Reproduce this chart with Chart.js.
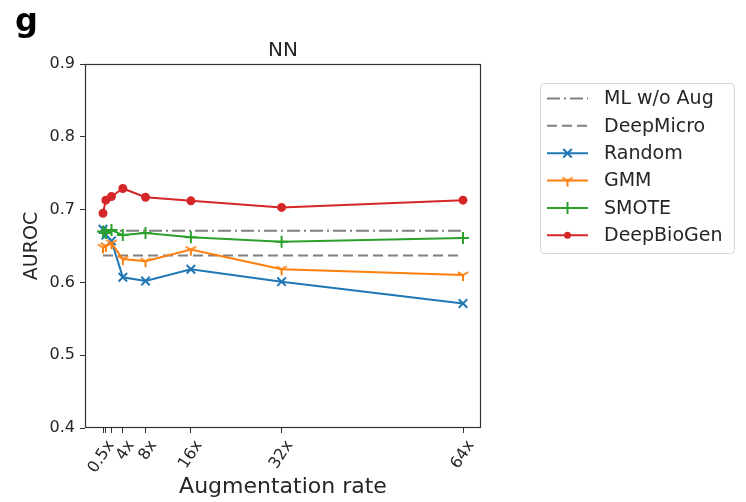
<!DOCTYPE html>
<html>
<head>
<meta charset="utf-8">
<script src="https://cdn.jsdelivr.net/npm/chart.js@4.4.1/dist/chart.umd.min.js"></script>
<style>
  body { margin: 0; background: #fff; }
  #wrap { width: 746px; height: 502px; }
</style>
</head>
<body>
<div id="wrap"><canvas id="aurocChart" width="746" height="502"></canvas></div>
<script>
// --- data ---
const rates = [0.5, 1, 2, 4, 8, 16, 32, 64];
const rateLabels = ['0.5x', '', '', '4x', '8x', '16x', '32x', '64x'];
const yTicks = [0.4, 0.5, 0.6, 0.7, 0.8, 0.9];

const mlNoAug = 0.671;
const deepMicro = 0.637;
const randomAuc = [0.673, 0.665, 0.657, 0.607, 0.602, 0.618, 0.601, 0.571];
const gmmAuc = [0.648, 0.650, 0.654, 0.632, 0.629, 0.645, 0.618, 0.610];
const smoteAuc = [0.670, 0.668, 0.672, 0.665, 0.668, 0.662, 0.656, 0.661];
const deepBioGenAuc = [0.695, 0.713, 0.718, 0.729, 0.717, 0.712, 0.703, 0.713];

const FONT = "'DejaVu Sans', sans-serif";
const TEXT = '#262626';
const GRAY = '#808080';

// tri_down marker ("Y" shape), same look as matplotlib '1'
function triDown(color, r) {
    const c = document.createElement('canvas');
    const s = Math.ceil(r * 2 + 4);
    c.width = s; c.height = s;
    const g = c.getContext('2d');
    const m = s / 2;
    g.strokeStyle = color;
    g.lineWidth = 2;
    g.beginPath();
    g.moveTo(m, m); g.lineTo(m, m + r);
    g.moveTo(m, m); g.lineTo(m - r * 0.866, m - r * 0.5);
    g.moveTo(m, m); g.lineTo(m + r * 0.866, m - r * 0.5);
    g.stroke();
    return c;
}

const pts = (ys) => rates.map((x, i) => ({ x: x, y: ys[i] }));
const flat = (v) => [{ x: rates[0], y: v }, { x: rates[rates.length - 1], y: v }];

const series = [
    { label: 'ML w/o Aug', data: flat(mlNoAug), color: GRAY, dash: [13, 4, 2, 4], marker: null },
    { label: 'DeepMicro', data: flat(deepMicro), color: GRAY, dash: [10, 5], marker: null },
    { label: 'Random', data: pts(randomAuc), color: '#1f77b4', dash: [], marker: 'crossRot', r: 6 },
    { label: 'GMM', data: pts(gmmAuc), color: '#ff7f0e', dash: [], marker: triDown('#ff7f0e', 6), r: 6 },
    { label: 'SMOTE', data: pts(smoteAuc), color: '#2ca02c', dash: [], marker: 'cross', r: 6 },
    { label: 'DeepBioGen', data: pts(deepBioGenAuc), color: '#d62728', dash: [], marker: 'circle', r: 3.5 }
];

const datasets = series.map((s, i) => ({
    label: s.label,
    data: s.data,
    borderColor: s.color,
    backgroundColor: s.color,
    borderWidth: 2,
    borderDash: s.dash,
    pointStyle: s.marker || 'circle',
    pointRadius: s.marker ? s.r : 0,
    pointHoverRadius: s.marker ? s.r : 0,
    pointBorderWidth: 2,
    tension: 0,
    order: series.length - i
}));

function drawMarker(ctx, s, x, y) {
    if (!s.marker) return;
    const r = s.r;
    ctx.save();
    ctx.setLineDash([]);
    ctx.strokeStyle = s.color;
    ctx.fillStyle = s.color;
    ctx.lineWidth = 2;
    if (s.marker === 'crossRot') {
        const d = r * 0.7071;
        ctx.beginPath();
        ctx.moveTo(x - d, y - d); ctx.lineTo(x + d, y + d);
        ctx.moveTo(x - d, y + d); ctx.lineTo(x + d, y - d);
        ctx.stroke();
    } else if (s.marker === 'cross') {
        ctx.beginPath();
        ctx.moveTo(x - r, y); ctx.lineTo(x + r, y);
        ctx.moveTo(x, y - r); ctx.lineTo(x, y + r);
        ctx.stroke();
    } else if (s.marker === 'circle') {
        ctx.beginPath();
        ctx.arc(x, y, r, 0, Math.PI * 2);
        ctx.fill();
    } else {
        ctx.drawImage(s.marker, x - s.marker.width / 2, y - s.marker.height / 2);
    }
    ctx.restore();
}

// frame, titles, panel letter and the boxed legend
const decorations = {
    id: 'decorations',
    afterDraw(chart) {
        const ctx = chart.ctx;
        const a = chart.chartArea;
        ctx.save();

        ctx.strokeStyle = '#333';
        ctx.lineWidth = 1.2;
        ctx.strokeRect(a.left + 0.5, a.top + 0.5, a.right - a.left - 1, a.bottom - a.top - 1);

        ctx.fillStyle = '#000';
        ctx.font = "bold 32px " + FONT;
        ctx.textAlign = 'left';
        ctx.textBaseline = 'alphabetic';
        ctx.fillText('g', 15, 31);

        ctx.fillStyle = TEXT;
        ctx.font = "20px " + FONT;
        ctx.textAlign = 'center';
        ctx.fillText('NN', (a.left + a.right) / 2, 56);

        // legend
        const lx = 540, ly = 83, lw = 194, lh = 170;
        ctx.beginPath();
        ctx.roundRect(lx + 0.5, ly + 0.5, lw, lh, 4);
        ctx.fillStyle = 'rgba(255,255,255,0.8)';
        ctx.fill();
        ctx.strokeStyle = '#d6d6d6';
        ctx.lineWidth = 1;
        ctx.stroke();

        ctx.font = "19px " + FONT;
        ctx.textAlign = 'left';
        ctx.textBaseline = 'middle';
        series.forEach((s, i) => {
            const y = 98.5 + i * 27.35;
            ctx.save();
            ctx.strokeStyle = s.color;
            ctx.lineWidth = 2;
            ctx.setLineDash(s.dash);
            ctx.beginPath();
            ctx.moveTo(547, y); ctx.lineTo(588, y);
            ctx.stroke();
            ctx.restore();
            drawMarker(ctx, s, 567.5, y);
            ctx.fillStyle = TEXT;
            ctx.fillText(s.label, 604, y + 1);
        });
        ctx.restore();
    }
};

new Chart(document.getElementById('aurocChart'), {
    type: 'line',
    data: { datasets: datasets },
    options: {
        responsive: false,
        devicePixelRatio: 1,
        animation: false,
        events: [],
        layout: { padding: { top: 64, right: 265, bottom: 0, left: 0 } },
        plugins: {
            legend: { display: false },
            title: { display: false },
            tooltip: { enabled: false }
        },
        scales: {
            x: {
                type: 'linear',
                min: -2.675,
                max: 67.175,
                afterBuildTicks: (scale) => { scale.ticks = rates.map(v => ({ value: v })); },
                afterFit: (scale) => { scale.height = 74; },
                border: { display: false },
                grid: { drawOnChartArea: false, drawTicks: true, tickLength: 5, color: '#333' },
                ticks: {
                    autoSkip: false,
                    minRotation: 57,
                    maxRotation: 57,
                    padding: 4,
                    labelOffset: 8,
                    color: TEXT,
                    font: { family: FONT, size: 16 },
                    callback: (v) => { const i = rates.indexOf(v); return i >= 0 ? rateLabels[i] : ''; }
                },
                title: {
                    display: true,
                    text: 'Augmentation rate',
                    color: TEXT,
                    font: { family: FONT, size: 22 },
                    padding: { top: 0, bottom: 2 }
                }
            },
            y: {
                min: 0.4,
                max: 0.9,
                afterBuildTicks: (scale) => { scale.ticks = yTicks.map(v => ({ value: v })); },
                afterFit: (scale) => { scale.width = 85; },
                border: { display: false },
                grid: { drawOnChartArea: false, drawTicks: true, tickLength: 5, color: '#333' },
                ticks: {
                    padding: 5,
                    color: TEXT,
                    font: { family: FONT, size: 16 },
                    callback: (v) => v.toFixed(1)
                },
                title: {
                    display: true,
                    text: 'AUROC',
                    color: TEXT,
                    font: { family: FONT, size: 19 },
                    padding: { top: 21, bottom: 0 }
                }
            }
        }
    },
    plugins: [decorations]
});
</script>
</body>
</html>
